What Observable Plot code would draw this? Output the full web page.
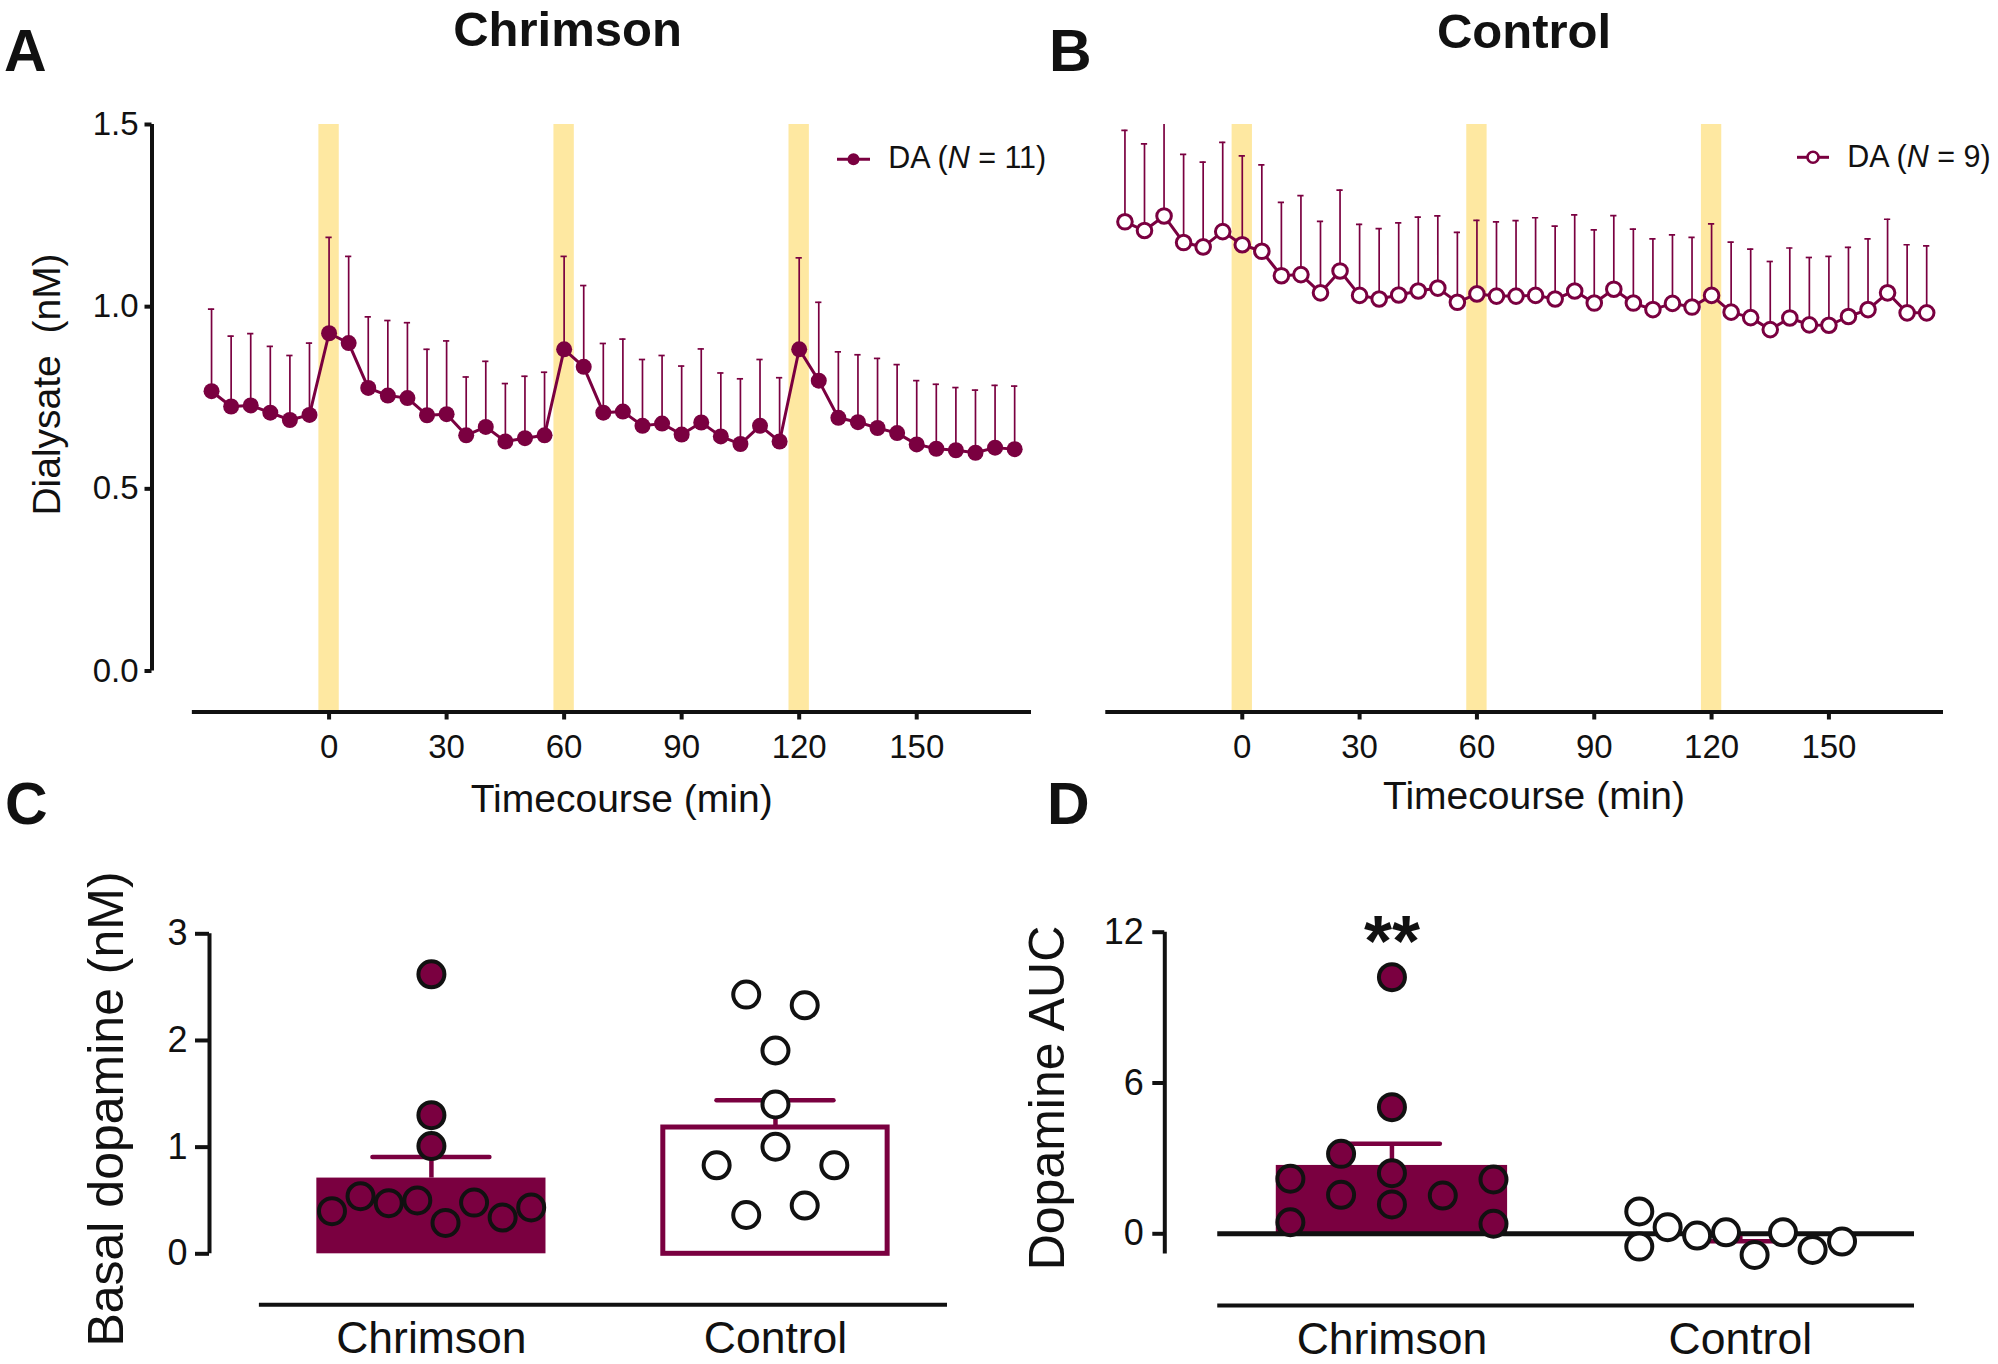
<!DOCTYPE html>
<html><head><meta charset="utf-8">
<script src="https://cdn.jsdelivr.net/npm/d3@7"></script>
<script src="https://cdn.jsdelivr.net/npm/@observablehq/plot@0.6"></script>
<style>
html,body{margin:0;padding:0;background:#fff;}
#fig{position:relative;width:1998px;height:1364px;overflow:hidden;}
</style></head><body><div id="fig"></div>
<script>
// ---------- data ----------
const timeMin = [-30,-25,-20,-15,-10,-5,0,5,10,15,20,25,30,35,40,45,50,55,60,65,70,75,80,85,90,95,100,105,110,115,120,125,130,135,140,145,150,155,160,165,170,175];
const chrimsonMean = [0.768,0.726,0.729,0.709,0.689,0.703,0.927,0.900,0.777,0.756,0.749,0.702,0.705,0.647,0.670,0.630,0.639,0.647,0.883,0.835,0.709,0.712,0.673,0.679,0.649,0.682,0.644,0.623,0.673,0.630,0.883,0.797,0.695,0.683,0.667,0.653,0.622,0.610,0.606,0.599,0.613,0.609];
const chrimsonSem = [0.225,0.193,0.197,0.182,0.177,0.197,0.263,0.238,0.195,0.206,0.207,0.181,0.201,0.160,0.180,0.159,0.170,0.173,0.255,0.223,0.190,0.199,0.182,0.187,0.188,0.202,0.174,0.179,0.182,0.175,0.251,0.215,0.181,0.185,0.191,0.188,0.175,0.177,0.172,0.172,0.171,0.173];
const controlMean = [1.233,1.209,1.249,1.176,1.164,1.206,1.170,1.152,1.085,1.088,1.038,1.098,1.031,1.021,1.032,1.043,1.051,1.012,1.035,1.029,1.029,1.031,1.021,1.043,1.010,1.048,1.010,0.992,1.009,0.999,1.031,0.985,0.970,0.937,0.969,0.950,0.949,0.973,0.992,1.038,0.983,0.983];
const controlSem = [0.251,0.238,0.310,0.242,0.233,0.245,0.244,0.237,0.201,0.217,0.196,0.222,0.195,0.193,0.198,0.203,0.198,0.192,0.202,0.204,0.207,0.213,0.200,0.209,0.201,0.202,0.203,0.194,0.188,0.191,0.196,0.192,0.188,0.187,0.192,0.185,0.189,0.190,0.194,0.202,0.187,0.184];
const stimCenters = [0, 60, 120];
const timeTicks = [0, 30, 60, 90, 120, 150];
const dialysateTicks = [0, 0.5, 1, 1.5];

const groups = ["Chrimson", "Control"];
const basalMean = [0.71, 1.184];
const basalSem = [0.197, 0.256];
const basalChrimson = [2.62,1.30,1.01,0.40,0.54,0.475,0.50,0.29,0.48,0.34,0.435];
const basalChrimsonJitter = [0,0,0,-0.289,-0.206,-0.124,-0.041,0.041,0.124,0.207,0.290];
const basalControl = [2.43,2.33,1.906,1.40,1.004,0.83,0.83,0.364,0.452];
const basalControlJitter = [-0.085,0.085,0,0,0,-0.171,0.171,-0.085,0.085];
const basalTicks = [0, 1, 2, 3];

const aucMean = [2.72, -0.10];
const aucSem = [0.86, 0.20];
const aucChrimson = [10.21,5.04,2.41,1.17,3.18,1.55,2.19,0.46,1.52,2.16,0.40];
const aucChrimsonJitter = [0,0,0,0,-0.146,-0.146,-0.2915,-0.2915,0.146,0.2915,0.2915];
const aucControl = [0.89,-0.51,0.26,-0.07,0.06,-0.84,0.06,-0.64,-0.31];
const aucControlJitter = [-0.290,-0.290,-0.2086,-0.124,-0.041,0.041,0.1225,0.2075,0.292];
const aucTicks = [0, 6, 12];

// ---------- style ----------
const CRIMSON = "#7a0040";
const STIM = "#fee8a1";
const FONT = '"Liberation Sans", Arial, Helvetica, sans-serif';
const W = 1998, H = 1364;
const fig = document.getElementById("fig");
function place(el){ el.style.position = "absolute"; el.style.left = "0px"; el.style.top = "0px"; fig.appendChild(el); }

const stimHalf = 2.6, capHalfTime = 0.8;
const timeDomain = [-45.2, 179.3], timeLineStart = -34.9;
const dialDomain = [-0.1125, 1.5];

function seriesOf(mean, sem){ return timeMin.map((t,i)=>({t, mean: mean[i], sem: sem[i]})); }

function timePanel(data, {marginLeft, marginRight, filled, showY}) {
  const marks = [
    Plot.rect(stimCenters, {x1: d => d - stimHalf, x2: d => d + stimHalf, fill: STIM}),
    Plot.ruleY([dialDomain[0]], {x1: timeLineStart, x2: timeDomain[1], strokeWidth: 4, stroke: "#111"}),
    Plot.axisX({ticks: timeTicks, tickSize: 8, tickPadding: 14.4, fontSize: 33, strokeWidth: 4, stroke: "#111", label: null}),
    Plot.ruleX(data, {x: "t", y1: "mean", y2: d => d.mean + d.sem, stroke: CRIMSON, strokeWidth: 1.7, clip: true}),
    Plot.ruleY(data, {y: d => d.mean + d.sem, x1: d => d.t - capHalfTime, x2: d => d.t + capHalfTime, stroke: CRIMSON, strokeWidth: 1.7, clip: true}),
    Plot.line(data, {x: "t", y: "mean", stroke: CRIMSON, strokeWidth: 3}),
    Plot.dot(data, filled
      ? {x: "t", y: "mean", r: 8, fill: CRIMSON, stroke: "none"}
      : {x: "t", y: "mean", r: 7.3, fill: "white", stroke: CRIMSON, strokeWidth: 3})
  ];
  if (showY) {
    marks.push(
      Plot.ruleX([timeDomain[0]], {y1: 0, y2: 1.5, strokeWidth: 4, stroke: "#111"}),
      Plot.axisY({ticks: dialysateTicks, tickFormat: d3.format(".1f"), tickSize: 7, tickPadding: 6.5, fontSize: 33, strokeWidth: 4, stroke: "#111", label: null})
    );
  }
  return Plot.plot({
    width: W, height: H,
    marginLeft, marginRight, marginTop: 124, marginBottom: H - 711.5,
    x: {domain: timeDomain},
    y: {domain: dialDomain, axis: showY ? undefined : null},
    style: {fontFamily: FONT, background: "none", overflow: "visible", color: "#111"},
    marks
  });
}

place(timePanel(seriesOf(chrimsonMean, chrimsonSem), {marginLeft: 151.5, marginRight: W - 1031, filled: true, showY: true}));
place(timePanel(seriesOf(controlMean, controlSem), {marginLeft: 1065, marginRight: 55, filled: false, showY: false}));

// ---------- group panels ----------
function groupPanel({marginLeft, marginRight, marginTop, marginBottom, xDomain, yDomain, yAxisExt, ticks, tickSize, tickPadding, mean, sem, chrimson, chrimsonJit, control, controlJit, barHalf, capHalf, zeroLine, stars}) {
  const bars = groups.map((g,i)=>({i, mean: mean[i], sem: sem[i], end: mean[i] + Math.sign(mean[i]) * sem[i]}));
  const pts = [
    ...chrimson.map((v,k)=>({i: 0, v, jit: chrimsonJit[k]})),
    ...control.map((v,k)=>({i: 1, v, jit: controlJit[k]}))
  ];
  const marks = [
    Plot.ruleY([yDomain[0]], {x1: -0.5, x2: 1.5, strokeWidth: 4, stroke: "#111"}),
    Plot.axisX({ticks: [0,1], tickFormat: i => groups[i], tickSize: 0, tickPadding: 17, fontSize: 44.5, label: null}),
    Plot.ruleX([xDomain[0]], {y1: yAxisExt[0], y2: yAxisExt[1], strokeWidth: 4, stroke: "#111"}),
    Plot.axisY({ticks, tickFormat: d3.format("d"), tickSize, tickPadding, fontSize: 36, strokeWidth: 4, stroke: "#111", label: null}),
    Plot.rect(bars.filter(d => d.i === 0), {x1: d => d.i - barHalf, x2: d => d.i + barHalf, y1: 0, y2: "mean", fill: CRIMSON}),
    Plot.rect(bars.filter(d => d.i === 1), {x1: d => d.i - barHalf + 0.007, x2: d => d.i + barHalf - 0.007, y1: 0, y2: "mean", fill: "white", stroke: zeroLine ? "none" : CRIMSON, strokeWidth: 5})
  ];
  if (zeroLine) marks.push(Plot.ruleY([0], {x1: -0.5, x2: 1.5, strokeWidth: 5, stroke: "#111"}));
  marks.push(
    Plot.ruleX(bars, {x: "i", y1: "mean", y2: "end", stroke: CRIMSON, strokeWidth: 4.5}),
    Plot.ruleY(bars, {y: "end", x1: d => d.i - capHalf, x2: d => d.i + capHalf, stroke: CRIMSON, strokeWidth: 4.5, strokeLinecap: "round"}),
    Plot.dot(pts, {x: d => d.i + d.jit, y: "v", r: 13, fill: d => d.i === 0 ? CRIMSON : "white", stroke: "#111", strokeWidth: 4})
  );
  if (stars) marks.push(Plot.text(stars, {x: "i", text: "label", frameAnchor: "top", fontSize: 72, fontWeight: "bold", dy: -17, fill: "#111"}));
  return Plot.plot({
    width: W, height: H, marginLeft, marginRight, marginTop, marginBottom,
    x: {domain: xDomain}, y: {domain: yDomain},
    style: {fontFamily: FONT, background: "none", overflow: "visible", color: "#111"},
    marks
  });
}

place(groupPanel({
  marginLeft: 209, marginRight: W - 947, marginTop: 933.3, marginBottom: H - 1304.3,
  xDomain: [-0.645, 1.5], yDomain: [-0.478, 3], yAxisExt: [0, 3], ticks: basalTicks, tickSize: 14, tickPadding: 8,
  mean: basalMean, sem: basalSem, chrimson: basalChrimson, chrimsonJit: basalChrimsonJitter,
  control: basalControl, controlJit: basalControlJitter, barHalf: 0.333, capHalf: 0.17, zeroLine: false
}));
place(groupPanel({
  marginLeft: 1164.3, marginRight: 84, marginTop: 931.7, marginBottom: H - 1305,
  xDomain: [-0.652, 1.5], yDomain: [-2.853, 12], yAxisExt: [-0.8, 12], ticks: aucTicks, tickSize: 12, tickPadding: 9,
  mean: aucMean, sem: aucSem, chrimson: aucChrimson, chrimsonJit: aucChrimsonJitter,
  control: aucControl, controlJit: aucControlJitter, barHalf: 0.332, capHalf: 0.139, zeroLine: true,
  stars: [{i: 0, label: "**"}]
}));

// ---------- titles, labels, legends ----------
const svg = d3.create("svg").attr("width", W).attr("height", H).attr("viewBox", `0 0 ${W} ${H}`)
  .style("font-family", FONT).style("fill", "#111");
const txt = (x, y, s, o = {}) => {
  const t = svg.append("text").attr("x", x).attr("y", y).attr("font-size", o.size || 39)
    .attr("font-weight", o.bold ? "bold" : null).attr("text-anchor", o.anchor || "middle").text(s);
  if (o.rotate) t.attr("transform", `rotate(-90 ${x} ${y})`);
  return t;
};
txt(567.5, 46, "Chrimson", {size: 49, bold: true});
txt(1524, 48, "Control", {size: 49, bold: true});
txt(4, 70.7, "A", {size: 59, bold: true, anchor: "start"});
txt(1049, 70.7, "B", {size: 59, bold: true, anchor: "start"});
txt(5, 824, "C", {size: 59, bold: true, anchor: "start"});
txt(1047, 824, "D", {size: 59, bold: true, anchor: "start"});
txt(59.5, 384.5, "Dialysate\u00a0\u00a0(nM)", {size: 39, rotate: true});
txt(621.7, 811.7, "Timecourse (min)", {size: 39});
txt(1534, 809, "Timecourse (min)", {size: 39});
txt(123, 1109, "Basal dopamine (nM)", {size: 50, rotate: true});
txt(1064, 1098, "Dopamine AUC", {size: 50, rotate: true});

function legend(x0, x1, cy, cx, tx, ty, n, filled) {
  svg.append("line").attr("x1", x0).attr("x2", x1).attr("y1", cy).attr("y2", cy).attr("stroke", CRIMSON).attr("stroke-width", 3);
  svg.append("circle").attr("cx", cx).attr("cy", cy).attr("r", filled ? 6 : 5.5)
    .attr("fill", filled ? CRIMSON : "white").attr("stroke", filled ? "none" : CRIMSON).attr("stroke-width", 2.6);
  const t = svg.append("text").attr("x", tx).attr("y", ty).attr("font-size", 30.5);
  t.append("tspan").text("DA (");
  t.append("tspan").attr("font-style", "italic").text("N");
  t.append("tspan").text(` = ${n})`);
}
legend(837, 870, 159.3, 853.5, 888.3, 168.3, 11, true);
legend(1797, 1829, 157.3, 1813, 1847.3, 166.7, 9, false);
place(svg.node());
</script></body></html>
